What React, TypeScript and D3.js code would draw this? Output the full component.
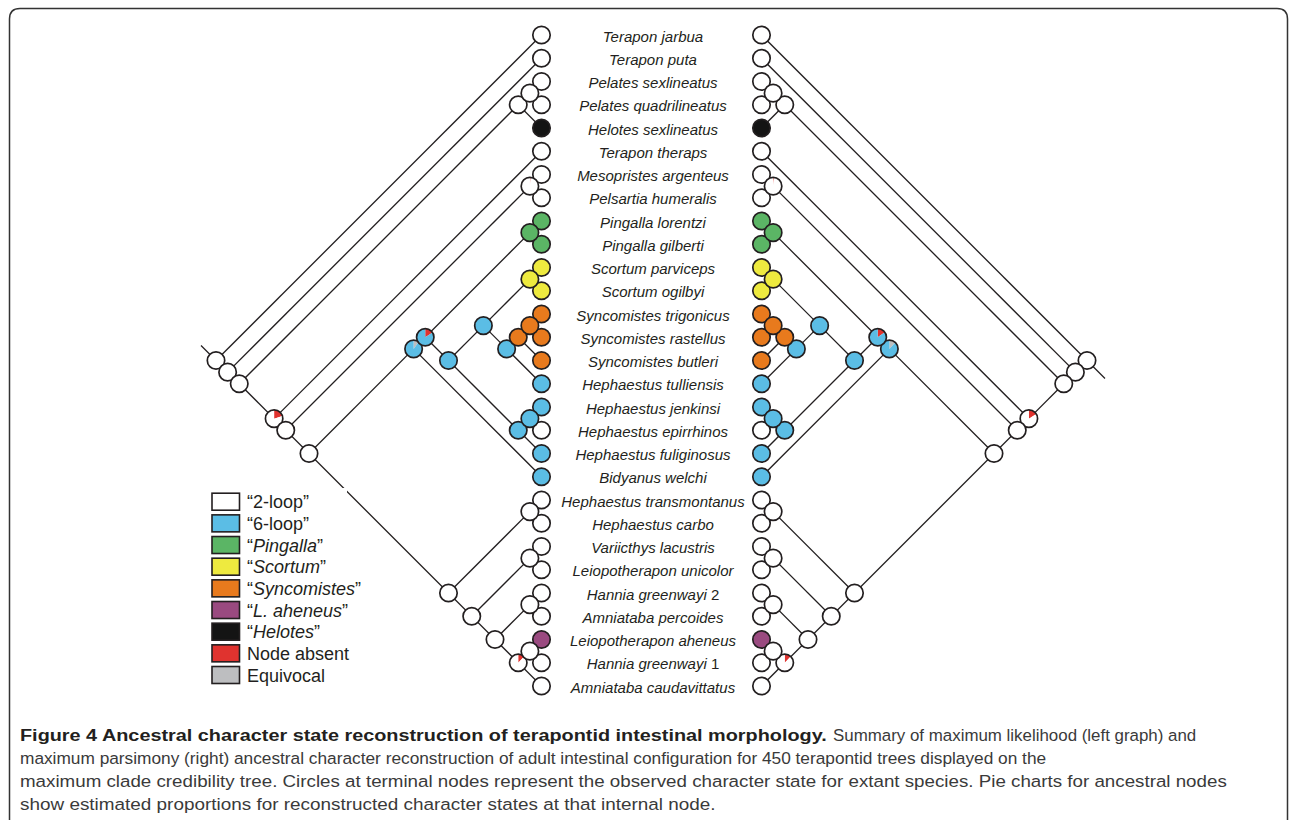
import React, { useLayoutEffect, useRef, useState } from 'react';
import * as d3 from 'd3';

// tip taxa, top to bottom
const taxa = [
  "Terapon jarbua", "Terapon puta", "Pelates sexlineatus", "Pelates quadrilineatus",
  "Helotes sexlineatus", "Terapon theraps", "Mesopristes argenteus", "Pelsartia humeralis",
  "Pingalla lorentzi", "Pingalla gilberti", "Scortum parviceps", "Scortum ogilbyi",
  "Syncomistes trigonicus", "Syncomistes rastellus", "Syncomistes butleri", "Hephaestus tulliensis",
  "Hephaestus jenkinsi", "Hephaestus epirrhinos", "Hephaestus fuliginosus", "Bidyanus welchi",
  "Hephaestus transmontanus", "Hephaestus carbo", "Variicthys lacustris", "Leiopotherapon unicolor",
  "Hannia greenwayi 2", "Amniataba percoides", "Leiopotherapon aheneus", "Hannia greenwayi 1",
  "Amniataba caudavittatus",
];

// observed state of each tip
const tipStates = [
  "2-loop", "2-loop", "2-loop", "2-loop", "Helotes", "2-loop", "2-loop", "2-loop",
  "Pingalla", "Pingalla", "Scortum", "Scortum", "Syncomistes", "Syncomistes", "Syncomistes",
  "6-loop", "6-loop", "2-loop", "6-loop", "6-loop",
  "2-loop", "2-loop", "2-loop", "2-loop", "2-loop", "2-loop", "L. aheneus", "2-loop", "2-loop",
];

// topology, numbers = 1-based tip index
const hephaestusClade = [[[9, 10], [[[11, 12], [[[13, 14], 15], 16]], [[17, 18], 19]]], 20];
const leiopotheraponClade = [[21, 22], [[23, 24], [[25, 26], [[27, 28], 29]]]];
const topology = [1, [2, [[[3, 4], 5], [6, [[7, 8], [hephaestusClade, leiopotheraponClade]]]]]];

// internal node reconstructions (clade "first-last" -> state proportions)
const mlNodes: [string, [string, number][]][] = [
  ["1-29", [["2-loop", 1]]], ["2-29", [["2-loop", 1]]], ["3-29", [["2-loop", 1]]],
  ["3-5", [["2-loop", 1]]], ["3-4", [["2-loop", 1]]],
  ["6-29", [["Node absent", 0.2], ["2-loop", 0.8]]], ["7-29", [["2-loop", 1]]],
  ["7-8", [["Node absent", 0.015], ["2-loop", 0.985]]], ["9-29", [["2-loop", 1]]],
  ["9-20", [["Equivocal", 0.1], ["6-loop", 0.9]]], ["9-19", [["Node absent", 0.16], ["6-loop", 0.84]]],
  ["9-10", [["Pingalla", 1]]], ["11-19", [["6-loop", 1]]], ["11-16", [["6-loop", 1]]],
  ["11-12", [["Scortum", 1]]], ["13-16", [["6-loop", 1]]], ["13-15", [["Syncomistes", 1]]],
  ["13-14", [["Syncomistes", 1]]], ["17-19", [["6-loop", 1]]], ["17-18", [["6-loop", 1]]],
  ["21-29", [["2-loop", 1]]], ["21-22", [["2-loop", 1]]], ["23-29", [["2-loop", 1]]],
  ["23-24", [["2-loop", 1]]], ["25-29", [["2-loop", 1]]], ["25-26", [["2-loop", 1]]],
  ["27-29", [["Node absent", 0.12], ["2-loop", 0.88]]], ["27-28", [["2-loop", 1]]],
];

const mpNodes: [string, [string, number][]][] = [
  ["1-29", [["2-loop", 1]]], ["2-29", [["2-loop", 1]]], ["3-29", [["2-loop", 1]]],
  ["3-5", [["2-loop", 1]]], ["3-4", [["2-loop", 1]]],
  ["6-29", [["Node absent", 0.16], ["2-loop", 0.84]]], ["7-29", [["2-loop", 1]]],
  ["7-8", [["Node absent", 0.015], ["2-loop", 0.985]]], ["9-29", [["2-loop", 1]]],
  ["9-20", [["Equivocal", 0.12], ["6-loop", 0.88]]], ["9-19", [["Node absent", 0.15], ["6-loop", 0.85]]],
  ["9-10", [["Pingalla", 1]]], ["11-19", [["6-loop", 1]]], ["11-16", [["6-loop", 1]]],
  ["11-12", [["Scortum", 1]]], ["13-16", [["6-loop", 1]]], ["13-15", [["Syncomistes", 1]]],
  ["13-14", [["Syncomistes", 1]]], ["17-19", [["6-loop", 1]]], ["17-18", [["6-loop", 1]]],
  ["21-29", [["2-loop", 1]]], ["21-22", [["2-loop", 1]]], ["23-29", [["2-loop", 1]]],
  ["23-24", [["2-loop", 1]]], ["25-29", [["2-loop", 1]]], ["25-26", [["2-loop", 1]]],
  ["27-29", [["Node absent", 0.12], ["2-loop", 0.88]]], ["27-28", [["2-loop", 1]]],
];

const legendStates = ["2-loop", "6-loop", "Pingalla", "Scortum", "Syncomistes", "L. aheneus", "Helotes", "Node absent", "Equivocal"];
const italicStates = ["Pingalla", "Scortum", "Syncomistes", "L. aheneus", "Helotes"];
const quotedStates = ["2-loop", "6-loop", "Pingalla", "Scortum", "Syncomistes", "L. aheneus", "Helotes"];

const captionTitle = "Figure 4 Ancestral character state reconstruction of terapontid intestinal morphology.";
const captionLines = [
  "Summary of maximum likelihood (left graph) and",
  "maximum parsimony (right) ancestral character reconstruction of adult intestinal configuration for 450 terapontid trees displayed on the",
  "maximum clade credibility tree. Circles at terminal nodes represent the observed character state for extant species. Pie charts for ancestral nodes",
  "show estimated proportions for reconstructed character states at that internal node.",
];

const color: Record<string, string> = {
  "2-loop": "#ffffff",
  "6-loop": "#5bbde5",
  "Pingalla": "#5bb565",
  "Scortum": "#eeea3f",
  "Syncomistes": "#e87a1d",
  "L. aheneus": "#9a4a80",
  "Helotes": "#141414",
  "Node absent": "#e0332f",
  "Equivocal": "#bdbec0",
};

const W = 1290, H = 820;
const INK = "#231f20";
const R = 8.7;
const tipLeft = 541.5, tipRight = 761.5;
const y = d3.scaleLinear().domain([0, taxa.length - 1]).range([35, 686]);

function layout(side: string) {
  const root: any = d3.hierarchy<any>(topology, d => (Array.isArray(d) ? d : null));
  const dir = side === 'left' ? -1 : 1;
  const tip = side === 'left' ? tipLeft : tipRight;
  root.eachAfter((n: any) => {
    if (!n.children) { n.lo = n.hi = n.data - 1; }
    else {
      n.lo = d3.min(n.children, (c: any) => c.lo);
      n.hi = d3.max(n.children, (c: any) => c.hi);
    }
  });
  root.each((n: any) => {
    const y0 = y(n.lo), y1 = y(n.hi);
    n.py = (y0 + y1) / 2;
    n.px = tip + dir * (y1 - y0) / 2;
    n.key = `${n.lo + 1}-${n.hi + 1}`;
  });
  return root;
}

const pie = d3.pie<[string, number]>().sort(null).value(d => d[1]);
const arc = d3.arc<any>().innerRadius(0).outerRadius(R);

function Node({ x, yy, parts }: { x: number; yy: number; parts: [string, number][] }) {
  if (parts.length === 1) {
    return <circle cx={x} cy={yy} r={R} fill={color[parts[0][0]]} stroke={INK} strokeWidth={1.7} />;
  }
  return (
    <g transform={`translate(${x},${yy})`}>
      <circle r={R} fill="#fff" />
      {pie(parts).map((s, i) => <path key={i} d={arc(s) as string} fill={color[s.data[0]]} />)}
      <circle r={R} fill="none" stroke={INK} strokeWidth={1.7} />
    </g>
  );
}

function Tree({ side, nodes }: { side: string; nodes: [string, [string, number][]][] }) {
  const root = layout(side);
  const states = new Map(nodes);
  const internals: any[] = [];
  root.eachBefore((n: any) => { if (n.children) internals.push(n); });
  const stub = side === 'left' ? -15 : 18;
  return (
    <g>
      {root.links().map((l: any, i: number) => (
        <line key={i} x1={l.source.px} y1={l.source.py} x2={l.target.px} y2={l.target.py} stroke={INK} strokeWidth={1.3} />
      ))}
      <line x1={root.px} y1={root.py} x2={root.px + stub} y2={root.py + stub} stroke={INK} strokeWidth={1.3} />
      {root.leaves().map((n: any, i: number) => (
        <Node key={i} x={n.px} yy={n.py} parts={[[tipStates[n.lo], 1]]} />
      ))}
      {internals.map((n: any, i: number) => (
        <Node key={i} x={n.px} yy={n.py} parts={states.get(n.key) || [["2-loop", 1]]} />
      ))}
    </g>
  );
}

function Legend() {
  const ly = d3.scaleLinear().domain([0, legendStates.length - 1]).range([501.7, 675]);
  return (
    <g>
      <rect x={200} y={488} width={147} height={202} fill="#fff" />
      {legendStates.map((s, i) => (
        <g key={s}>
          <rect x={212} y={ly(i) - 8.5} width={27.5} height={17} fill={color[s]} stroke={INK} strokeWidth={1.6} />
          <text x={247} y={ly(i) + 6.5} fontSize={18} fill={INK} fontFamily="'Liberation Sans', Arial, sans-serif">
            {quotedStates.includes(s) ? '\u201C' : ''}
            <tspan fontStyle={italicStates.includes(s) ? 'italic' : 'normal'}>{s}</tspan>
            {quotedStates.includes(s) ? '\u201D' : ''}
          </text>
        </g>
      ))}
    </g>
  );
}

// caption: a shared horizontal squeeze, nudged per line toward the reference line ends
function Caption() {
  const ref = useRef<SVGGElement>(null);
  const bodyStart = [833, 20, 20, 20];
  const bodyEnd = [1172, 1000, 1270, 747];
  const [sx, setSx] = useState({ title: 0.8, body: [0.85, 0.85, 0.85, 0.85] });
  useLayoutEffect(() => {
    const g = ref.current;
    if (!g) return;
    const title = (g.querySelector('text.cap-title') as SVGTextElement).getComputedTextLength();
    const nat = Array.from(g.querySelectorAll('text.cap-body')).map(t => (t as SVGTextElement).getComputedTextLength());
    const target = bodyEnd.map((e, i) => e - bodyStart[i]);
    const shared = d3.sum(target) / d3.sum(nat);
    setSx({ title: 806 / title, body: nat.map((n, i) => Math.sqrt(shared * (target[i] / n))) });
  }, []);
  return (
    <g ref={ref} fontFamily="'Liberation Sans', Arial, sans-serif" fontSize={17}>
      <text className="cap-title" transform={`translate(20,741) scale(${sx.title},1)`} fontWeight="bold" fill={INK}>{captionTitle}</text>
      {captionLines.map((line, i) => (
        <text key={i} className="cap-body" transform={`translate(${bodyStart[i]},${741 + i * 23}) scale(${sx.body[i]},1)`} fill="#3a3a3a">{line}</text>
      ))}
    </g>
  );
}

export default function App() {
  return (
    <svg width={W} height={H} style={{ position: 'absolute', left: 0, top: 0, background: '#fff' }}>
      <path d={`M9.5,${H} V19 Q9.5,8.5 20,8.5 H1277 Q1287.5,8.5 1287.5,19 V${H}`} fill="none" stroke="#333" strokeWidth={1.5} />
      <Tree side="left" nodes={mlNodes} />
      <Tree side="right" nodes={mpNodes} />
      <Legend />
      {taxa.map((t, i) => {
        const m = t.match(/^(.*?)( \d)$/);
        return (
          <text key={t} x={653} y={y(i) + 6.5} textAnchor="middle" fontSize={15} fill={INK}
            fontStyle="italic" fontFamily="'Liberation Sans', Arial, sans-serif">
            {m ? <>{m[1]}<tspan fontStyle="normal">{m[2]}</tspan></> : t}
          </text>
        );
      })}
      <Caption />
    </svg>
  );
}
